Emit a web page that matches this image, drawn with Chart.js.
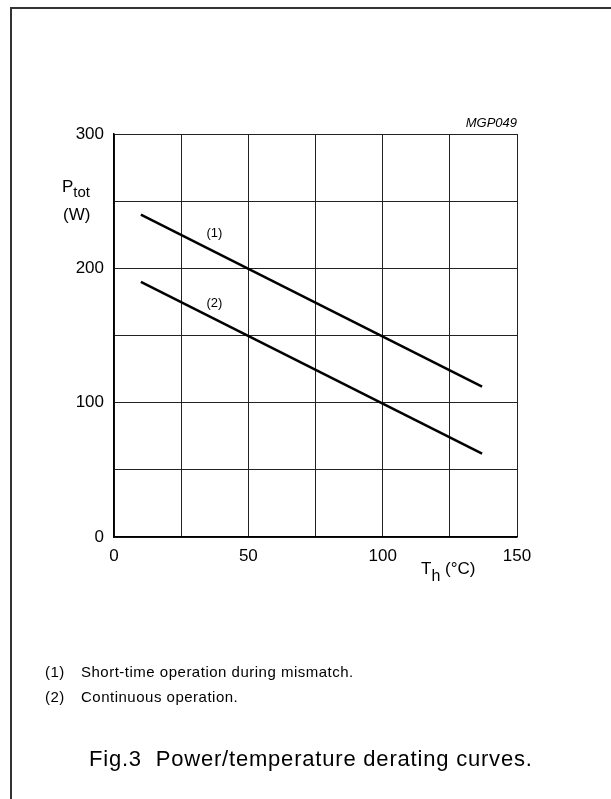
<!DOCTYPE html>
<html lang="en">

<head>
    <meta charset="UTF-8">
    <title>Power/temperature derating curves</title>
    <script src="https://cdn.jsdelivr.net/npm/chart.js"></script>
    <style>
        body {
            margin: 0;
            background: #fff;
            font-family: "Liberation Sans", Arial, sans-serif;
            color: #000;
        }

        #page {
            position: relative;
            width: 611px;
            height: 799px;
            overflow: hidden;
        }

        #frame {
            position: absolute;
            left: 10px;
            top: 7px;
            width: 700px;
            height: 900px;
            border-left: 2px solid #333;
            border-top: 2px solid #333;
        }

        #chart {
            position: absolute;
            left: 0;
            top: 0;
        }

        .txt {
            position: absolute;
            white-space: nowrap;
            line-height: 1;
        }

        .note {
            font-size: 15px;
            letter-spacing: 0.5px;
        }
    </style>
</head>

<body>
    <div id="page">
        <div id="frame"></div>
        <canvas id="chart" width="611" height="799"></canvas>

        <div class="txt" style="right:94px; top:116px; font-size:13px; font-style:italic;">MGP049</div>

        <div class="txt" style="left:62px; top:178px; font-size:17px;">P<span style="font-size:15px; position:relative; top:5px;">tot</span></div>
        <div class="txt" style="left:63px; top:206px; font-size:17px;">(W)</div>

        <div class="txt" style="left:421px; top:560px; font-size:17px;">T<span style="font-size:16px; position:relative; top:7px;">h</span> (°C)</div>

        <div class="txt note" style="left:45px; top:664px;">(1)</div>
        <div class="txt note" style="left:81px; top:664px;">Short-time operation during mismatch.</div>
        <div class="txt note" style="left:45px; top:689px;">(2)</div>
        <div class="txt note" style="left:81px; top:689px;">Continuous operation.</div>

        <div class="txt" style="left:89px; top:748px; font-size:22px; letter-spacing:0.8px;">Fig.3&nbsp; Power/temperature derating curves.</div>
    </div>

    <script>
        // heatsink temperature (degC) and total power (W)
        const tempPoints = [10, 137];
        const powerShortTime = [240, 112];   // (1) short-time operation during mismatch
        const powerContinuous = [190, 62];   // (2) continuous operation

        const xTickLabels = [0, 50, 100, 150];
        const yTickLabels = [0, 100, 200, 300];

        // curve tags placed in data coordinates
        const curveTags = [
            { text: '(1)', x: 37.4, y: 226 },
            { text: '(2)', x: 37.4, y: 174 }
        ];

        function toPoints(xs, ys) {
            return xs.map((x, i) => ({ x: x, y: ys[i] }));
        }

        // draws the (1)/(2) tags next to the curves
        const tagPlugin = {
            id: 'curveTags',
            afterDatasetsDraw(chart) {
                const ctx = chart.ctx;
                const xs = chart.scales.x;
                const ys = chart.scales.y;
                ctx.save();
                ctx.font = '13px "Liberation Sans", Arial, sans-serif';
                ctx.fillStyle = '#000';
                ctx.textAlign = 'center';
                ctx.textBaseline = 'middle';
                curveTags.forEach(t => {
                    ctx.fillText(t.text, xs.getPixelForValue(t.x), ys.getPixelForValue(t.y));
                });
                ctx.restore();
            }
        };

        const ctx = document.getElementById('chart').getContext('2d');
        const chart = new Chart(ctx, {
            type: 'line',
            data: {
                datasets: [{
                    data: toPoints(tempPoints, powerShortTime),
                    borderColor: '#000',
                    borderWidth: 2.5,
                    pointRadius: 0,
                    fill: false
                }, {
                    data: toPoints(tempPoints, powerContinuous),
                    borderColor: '#000',
                    borderWidth: 2.5,
                    pointRadius: 0,
                    fill: false
                }]
            },
            options: {
                responsive: false,
                animation: false,
                devicePixelRatio: 1,
                layout: {
                    padding: { left: 0, top: 134, right: 94, bottom: 0 }
                },
                plugins: {
                    legend: { display: false },
                    tooltip: { enabled: false }
                },
                scales: {
                    x: {
                        type: 'linear',
                        min: 0,
                        max: 150,
                        afterFit(scale) { scale.height = 262; },
                        grid: { color: '#222', lineWidth: 1, drawTicks: false },
                        border: { color: '#000', width: 1.5 },
                        ticks: {
                            stepSize: 25,
                            padding: 9,
                            color: '#000',
                            font: { family: '"Liberation Sans", Arial, sans-serif', size: 17 },
                            callback: v => xTickLabels.includes(v) ? String(v) : ''
                        }
                    },
                    y: {
                        min: 0,
                        max: 300,
                        afterFit(scale) { scale.width = 114; },
                        grid: { color: '#222', lineWidth: 1, drawTicks: false },
                        border: { color: '#000', width: 1.5 },
                        ticks: {
                            stepSize: 50,
                            padding: 10,
                            color: '#000',
                            font: { family: '"Liberation Sans", Arial, sans-serif', size: 17 },
                            callback: v => yTickLabels.includes(v) ? String(v) : ''
                        }
                    }
                }
            },
            plugins: [tagPlugin]
        });
    </script>
</body>

</html>
